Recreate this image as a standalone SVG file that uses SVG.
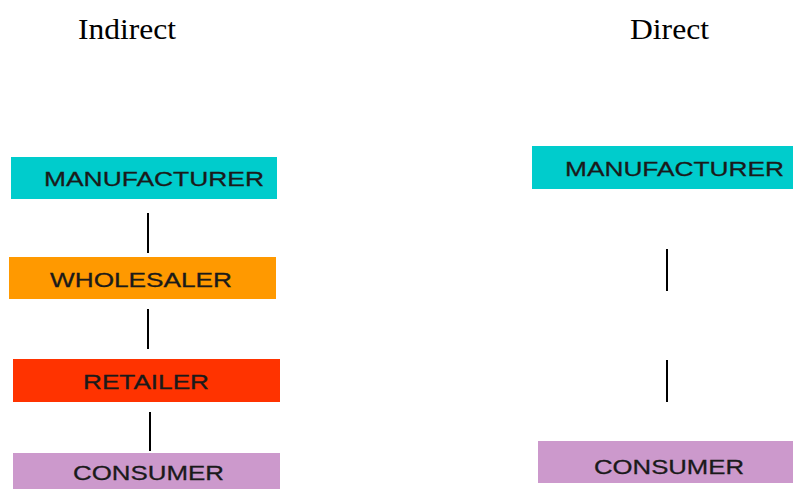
<svg xmlns="http://www.w3.org/2000/svg" width="793" height="489" viewBox="0 0 793 489">
<style>
.title{font-family:"Liberation Serif","Times New Roman",serif;font-size:30px;fill:#000}
.lbl{font-family:"Liberation Sans",Arial,sans-serif;font-size:21px;fill:#1a1a1a;stroke:#1a1a1a;stroke-width:0.3}
.conn{stroke:#000;stroke-width:2;fill:none}
.cyan{fill:#00CCCC}
.orange{fill:#FF9900}
.red{fill:#FF3300}
.lilac{fill:#CC99CC}
</style>
<rect width="793" height="489" fill="#fff"/>
<text class="title" x="78" y="39" textLength="98" lengthAdjust="spacingAndGlyphs">Indirect</text>
<text class="title" x="630" y="39" textLength="79" lengthAdjust="spacingAndGlyphs">Direct</text>
<g id="connectors">
<line class="conn" x1="148" y1="213" x2="148" y2="253"/>
<line class="conn" x1="148" y1="309" x2="148" y2="349"/>
<line class="conn" x1="150" y1="412" x2="150" y2="451"/>
<line class="conn" x1="667" y1="249" x2="667" y2="291"/>
<line class="conn" x1="667" y1="360" x2="667" y2="402"/>
</g>
<g id="ind-manufacturer">
<rect class="cyan" x="11" y="157" width="266" height="42"/>
<text class="lbl" x="44" y="186" textLength="220" lengthAdjust="spacingAndGlyphs">MANUFACTURER</text>
</g>
<g id="ind-wholesaler">
<rect class="orange" x="9" y="257" width="267" height="42"/>
<text class="lbl" x="50" y="287" textLength="182" lengthAdjust="spacingAndGlyphs">WHOLESALER</text>
</g>
<g id="ind-retailer">
<rect class="red" x="13" y="359" width="267" height="43"/>
<text class="lbl" x="83" y="389" textLength="126" lengthAdjust="spacingAndGlyphs">RETAILER</text>
</g>
<g id="ind-consumer">
<rect class="lilac" x="13" y="453" width="267" height="36"/>
<text class="lbl" x="73" y="480" textLength="151" lengthAdjust="spacingAndGlyphs">CONSUMER</text>
</g>
<g id="dir-manufacturer">
<rect class="cyan" x="532" y="146" width="261" height="43"/>
<text class="lbl" x="565" y="176" textLength="219" lengthAdjust="spacingAndGlyphs">MANUFACTURER</text>
</g>
<g id="dir-consumer">
<rect class="lilac" x="538" y="441" width="255" height="42"/>
<text class="lbl" x="594" y="474" textLength="150" lengthAdjust="spacingAndGlyphs">CONSUMER</text>
</g>
</svg>
